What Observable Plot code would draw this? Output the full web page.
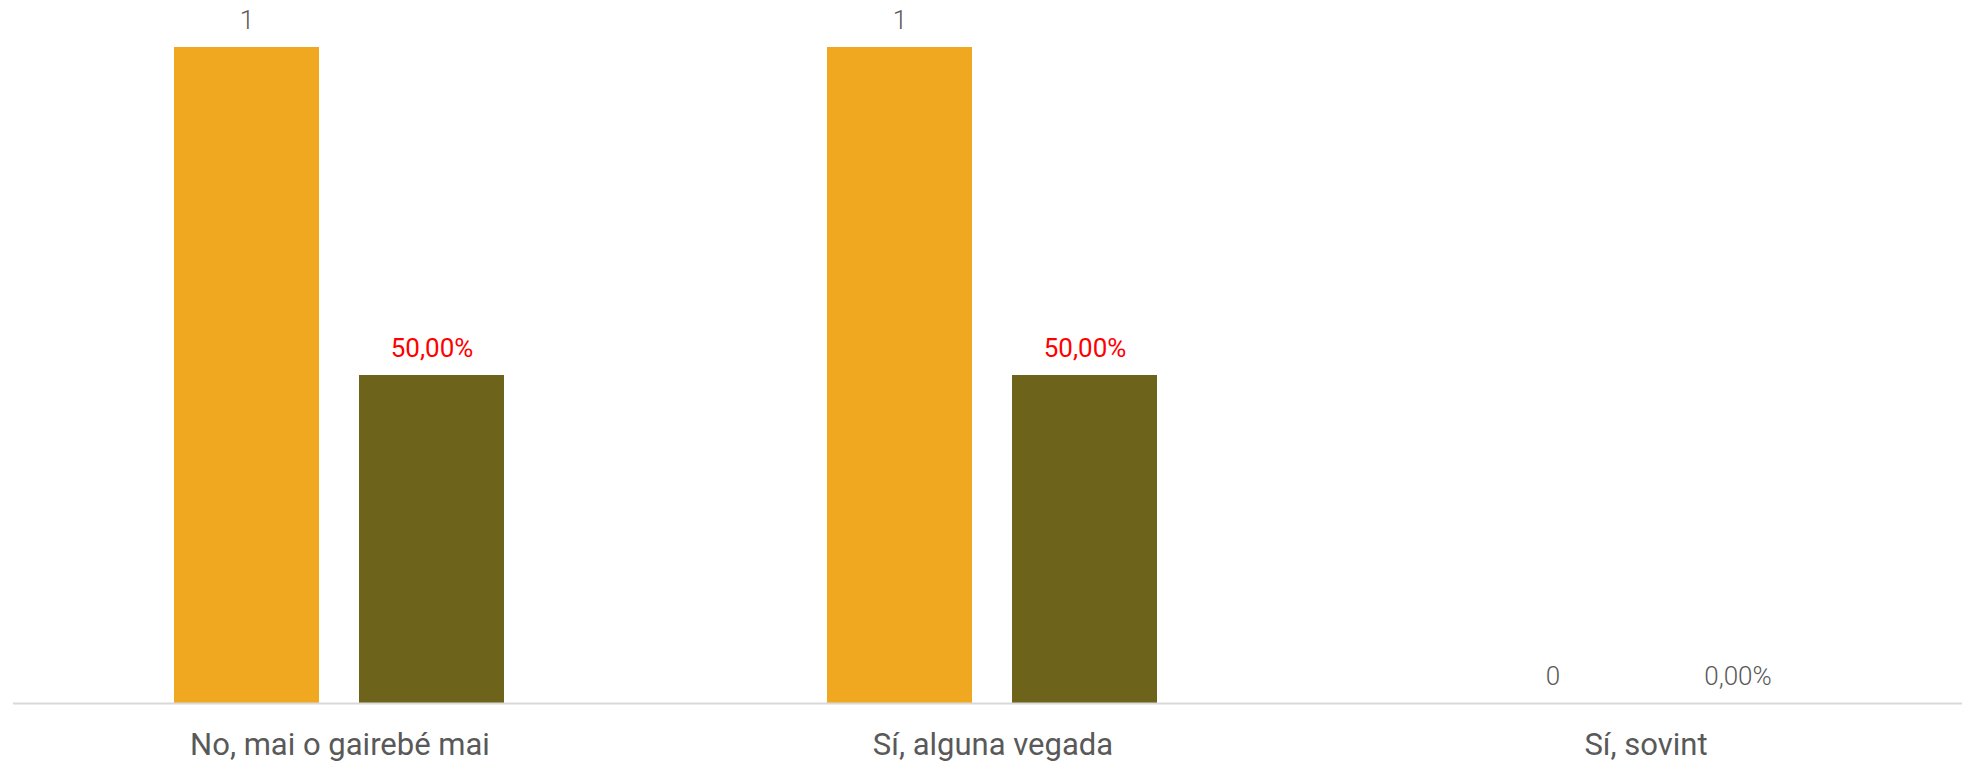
<!DOCTYPE html>
<html>
<head>
<meta charset="utf-8">
<script src="https://cdn.jsdelivr.net/npm/d3@7"></script>
<script src="https://cdn.jsdelivr.net/npm/@observablehq/plot@0.6"></script>
<style>
  html, body { margin: 0; padding: 0; background: #ffffff; }
  #chart svg { display: block; font-family: Roboto, "Noto Sans", sans-serif; }
</style>
</head>
<body>
<div id="chart"></div>
<script>
const categories = ["No, mai o gairebé mai", "Sí, alguna vegada", "Sí, sovint"];
const seriesKeys = ["Recompte", "Percentatge"];
const counts = [1, 1, 0];
const percents = [0.5, 0.5, 0];
const seriesColors = ["#EFA820", "#6E631A"];

const rows = [];
categories.forEach((c, i) => {
  rows.push({category: c, series: seriesKeys[0], value: counts[i]});
  rows.push({category: c, series: seriesKeys[1], value: percents[i]});
});

const locale = d3.formatLocale({decimal: ",", thousands: ".", grouping: [3], currency: ["", " €"]});
const fmtPct = locale.format(".2%");
const label = d => d.series === seriesKeys[0] ? String(d.value) : fmtPct(d.value);

const chart = Plot.plot({
  width: 1962,
  height: 762,
  marginLeft: 13,
  marginRight: -10,
  marginTop: 47,
  marginBottom: 59,
  style: {color: "#595959", background: "#ffffff"},
  fx: {domain: categories, padding: 0, label: null, axis: null},
  x: {domain: seriesKeys, paddingInner: 0.215, paddingOuter: 0.863, axis: null},
  y: {domain: [0, 1], axis: null},
  color: {domain: seriesKeys, range: seriesColors},
  marks: [
    Plot.barY(rows, {fx: "category", x: "series", y: "value", fill: "series"}),
    Plot.ruleY([0], {stroke: "#d9d9d9", strokeWidth: 2}),
    Plot.text(rows.filter(d => d.series === seriesKeys[0] || d.value === 0), {
      fx: "category", x: "series", y: "value", text: label,
      lineAnchor: "bottom", dy: -19, fontSize: 26, fontWeight: 300, fill: "#595959"
    }),
    Plot.text(rows.filter(d => d.series === seriesKeys[1] && d.value > 0), {
      fx: "category", x: "series", y: "value", text: label,
      lineAnchor: "bottom", dy: -19, fontSize: 26, fontWeight: 400, fill: "#ff0000"
    }),
    Plot.axisFx({anchor: "bottom", tickSize: 0, tickPadding: 29, fontSize: 31, label: null, fill: "#595959"})
  ]
});
document.getElementById("chart").appendChild(chart);
</script>
</body>
</html>
